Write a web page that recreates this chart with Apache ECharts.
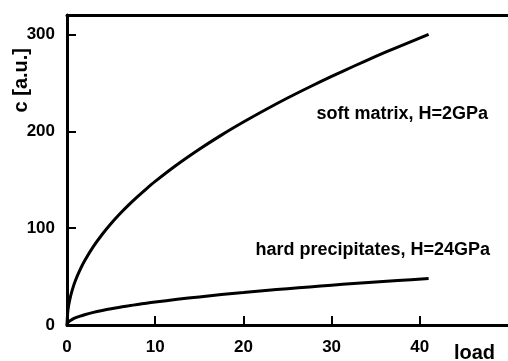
<!DOCTYPE html>
<html><head><meta charset="utf-8">
<script src="https://cdn.jsdelivr.net/npm/echarts@6/dist/echarts.min.js"></script>
<style>html,body{margin:0;padding:0;background:#fff}#c{width:508px;height:361px}</style>
</head><body><div id="c"></div>
<script>
const loadValues = [0, 0.1, 0.3, 0.6, 1, 1.5, 2, 3, 4, 5, 6, 7, 8, 9, 10, 12.5, 15, 17.5, 20, 22.5, 25, 27.5, 30, 32.5, 35, 37.5, 41];
const softMatrix = [0, 14.8, 25.7, 36.3, 46.9, 57.4, 66.3, 81.1, 93.7, 104.8, 114.8, 124, 132.5, 140.6, 148.2, 165.6, 181.4, 196, 209.5, 222.2, 234.3, 245.7, 256.6, 267.1, 277.2, 286.9, 300];
const hardPrecipitates = [0, 2.4, 4.1, 5.8, 7.5, 9.2, 10.6, 13, 15, 16.8, 18.4, 19.8, 21.2, 22.5, 23.7, 26.5, 29, 31.4, 33.5, 35.6, 37.5, 39.3, 41.1, 42.8, 44.4, 45.9, 48];
const xTicks = [0, 10, 20, 30, 40];
const yTicks = [0, 100, 200, 300];
const seriesNames = ['soft matrix, H=2GPa', 'hard precipitates, H=24GPa'];

const F = 'Liberation Sans, Arial, sans-serif';
const chart = echarts.init(document.getElementById('c'), null, {renderer: 'canvas'});
const pairs = vals => loadValues.map((x, i) => [x, vals[i]]);
const lineStyle = {color: '#000', width: 3};
chart.setOption({
  animation: false,
  grid: {left: 67, right: 0, top: 15, bottom: 36, containLabel: false},
  xAxis: [{
    type: 'value', min: 0, max: 50, interval: 10,
    axisLine: {show: true, lineStyle: {color: '#000', width: 3}},
    axisTick: {show: true, inside: true, length: 9, lineStyle: {color: '#000', width: 2}},
    axisLabel: {show: true, margin: 14, color: '#000', fontFamily: F, fontWeight: 'bold', fontSize: 17,
      showMaxLabel: false, formatter: v => xTicks.includes(v) ? String(v) : ''},
    splitLine: {show: false}
  }, {
    type: 'value', position: 'top', min: 0, max: 50,
    axisLine: {show: true, onZero: false, lineStyle: {color: '#000', width: 3}},
    axisTick: {show: false}, axisLabel: {show: false}, splitLine: {show: false}
  }],
  yAxis: {
    type: 'value', min: 0, max: 320, interval: 100,
    axisLine: {show: true, lineStyle: {color: '#000', width: 3}},
    axisTick: {show: true, inside: true, length: 9, lineStyle: {color: '#000', width: 2}},
    axisLabel: {show: true, margin: 12, color: '#000', fontFamily: F, fontWeight: 'bold', fontSize: 17,
      showMaxLabel: false, formatter: v => yTicks.includes(v) ? String(v) : ''},
    splitLine: {show: false}
  },
  series: [
    {name: seriesNames[0], type: 'line', data: pairs(softMatrix), smooth: 0.3, symbol: 'none', lineStyle, xAxisIndex: 0},
    {name: seriesNames[1], type: 'line', data: pairs(hardPrecipitates), smooth: 0.3, symbol: 'none', lineStyle, xAxisIndex: 0}
  ],
  graphic: [
    {type: 'text', left: 11, top: 48, rotation: Math.PI / 2,
      style: {text: 'c [a.u.]', font: 'bold 20px ' + F, fill: '#000'}},
    {type: 'text', right: 13, top: 343,
      style: {text: 'load', font: 'bold 20px ' + F, fill: '#000'}},
    {type: 'text', right: 20, top: 105,
      style: {text: seriesNames[0], font: 'bold 18px ' + F, fill: '#000'}},
    {type: 'text', right: 18, top: 241,
      style: {text: seriesNames[1], font: 'bold 18px ' + F, fill: '#000'}}
  ]
});
</script></body></html>
